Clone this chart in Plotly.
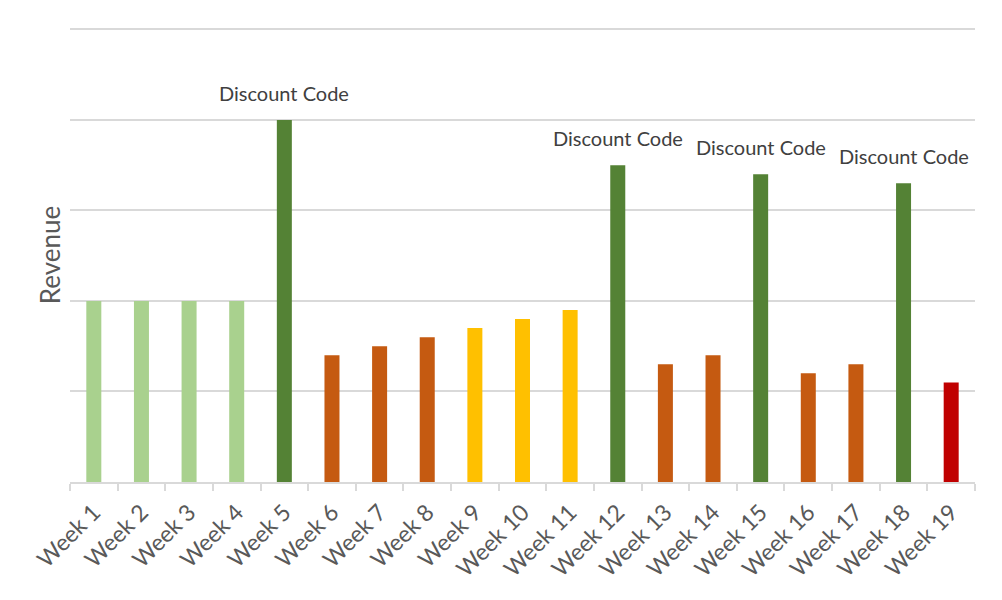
import plotly.graph_objects as go

weeks = [f"Week {i}" for i in range(1, 20)]
revenue = [2.0, 2.0, 2.0, 2.0, 4.0, 1.4, 1.5, 1.6, 1.7, 1.8, 1.9, 3.5, 1.3, 1.4, 3.4, 1.2, 1.3, 3.3, 1.1]
bar_colors = (
    ["#A9D18E"] * 4
    + ["#548235"]
    + ["#C55A11"] * 3
    + ["#FFC000"] * 3
    + ["#548235"]
    + ["#C55A11"] * 2
    + ["#548235"]
    + ["#C55A11"] * 2
    + ["#548235"]
    + ["#C00000"]
)
discount_weeks = ["Week 5", "Week 12", "Week 15", "Week 18"]

fig = go.Figure(
    go.Bar(x=weeks, y=revenue, marker=dict(color=bar_colors, line_width=0), hoverinfo="x+y")
)

for w in discount_weeks:
    fig.add_annotation(
        x=w, y=revenue[weeks.index(w)], text="Discount Code",
        showarrow=False, yanchor="bottom", yshift=13,
        font=dict(family="Lato, Open Sans, sans-serif", size=20, color="#404040"),
    )

# page body adds an 8px offset, so margins are trimmed to land the plot area where the original has it
fig.update_layout(
    width=1002, height=600,
    margin=dict(l=62, r=35, t=20, b=126),
    paper_bgcolor="white", plot_bgcolor="white",
    bargap=0.685, showlegend=False,
    font=dict(family="Lato, Open Sans, sans-serif", color="#595959"),
)
fig.update_xaxes(
    tickangle=-45, tickfont=dict(size=23, color="#595959"), automargin=False,
    ticklabelstandoff=6,
    showline=True, linecolor="#D9D9D9", linewidth=1.5,
    ticks="outside", tickson="boundaries", ticklen=7, tickcolor="#D9D9D9", tickwidth=1.5,
    showgrid=False,
)
fig.update_yaxes(
    range=[0, 5.015], dtick=1, showticklabels=False, automargin=False,
    showgrid=True, gridcolor="#D9D9D9", gridwidth=1.5, zeroline=False,
    title=dict(text="Revenue", font=dict(size=26, color="#595959"), standoff=0),
)

fig.write_html("out.html")
